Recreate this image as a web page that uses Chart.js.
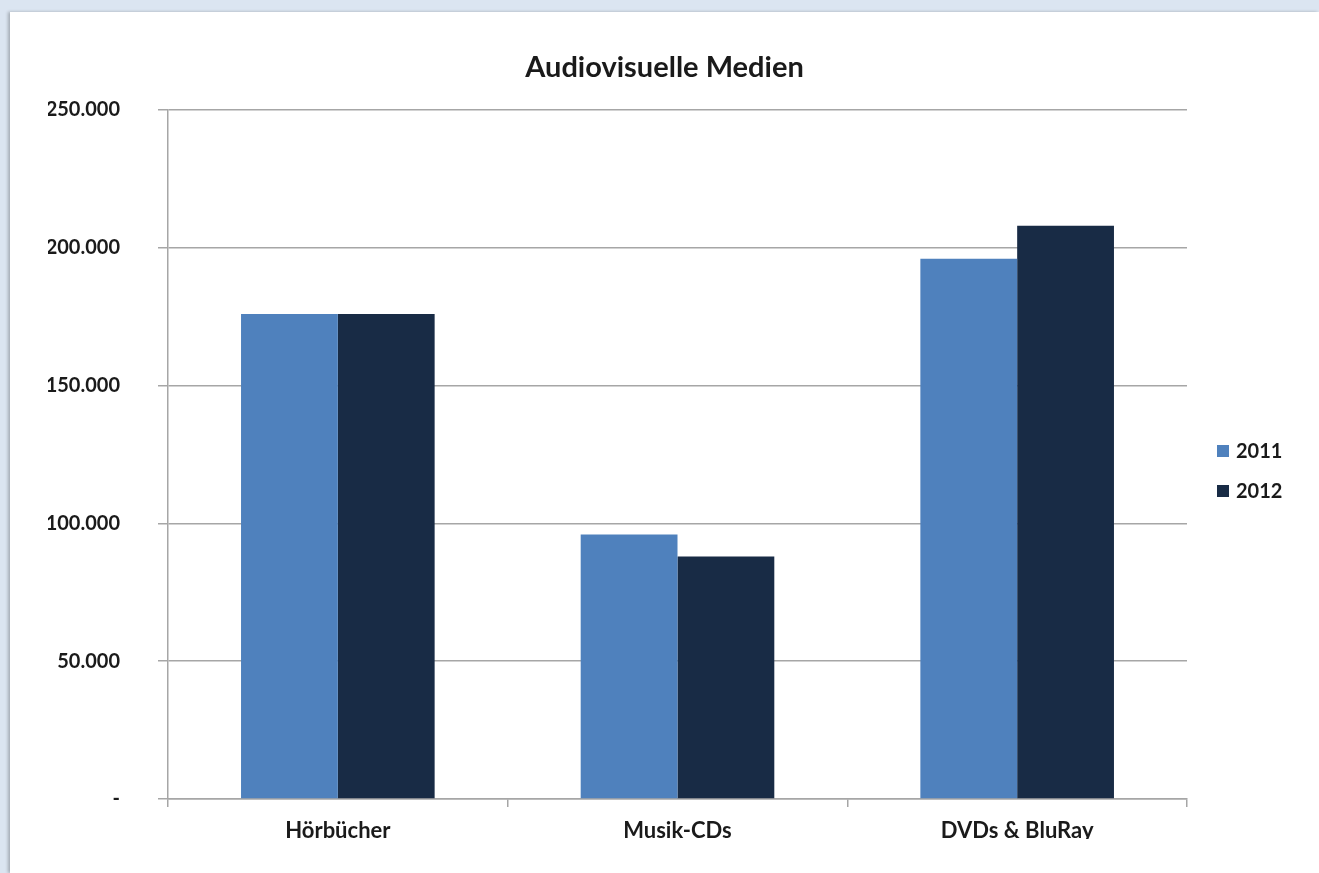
<!DOCTYPE html>
<html><head><meta charset="utf-8">
<script src="https://cdn.jsdelivr.net/npm/chart.js@4"></script>
<style>
html,body{margin:0;padding:0;background:#dbe5f1;width:1319px;height:873px;overflow:hidden}
#panel{position:absolute;left:10px;top:12px;width:1309px;height:861px;background:#fff;box-shadow:-2px 0 3px rgba(0,0,0,0.25);}
#clip{position:absolute;left:38px;top:0;width:1271px;height:827px;overflow:hidden}
#c{position:absolute;left:-38px;top:0}
</style></head><body>
<div id="panel"><div id="clip"><canvas id="c" width="1309" height="861"></canvas></div></div>
<script>
const categories = ['Hörbücher', 'Musik-CDs', 'DVDs & BluRay'];
const seriesNames = ['2011', '2012'];
const values2011 = [176000, 96000, 196000];
const values2012 = [176000, 88000, 208000];
const colors = ['#4f81bd', '#182b45'];
const yMin = 0, yMax = 250000, yStep = 50000;
const chartTitle = 'Audiovisuelle Medien';

const FONT = 'Lato, "Open Sans", sans-serif';
const TEXT = '#1a1a1a';

function fmt(v) {
  if (v === 0) return '-';
  return String(v).replace(/\B(?=(\d{3})+(?!\d))/g, '.');
}

const sideLegend = {
  id: 'sideLegend',
  afterDraw(chart) {
    const {ctx, chartArea} = chart;
    const ds = chart.data.datasets;
    const x = chartArea.right + 30;
    const mid = (chartArea.top + chartArea.bottom) / 2 + 16.5;
    const gap = 40;
    ctx.save();
    ctx.font = 'bold 20px ' + FONT;
    ctx.textBaseline = 'middle';
    ctx.textAlign = 'left';
    ds.forEach((d, i) => {
      const y = mid + (i - (ds.length - 1) / 2) * gap;
      ctx.fillStyle = d.backgroundColor;
      ctx.fillRect(x, y - 6, 12, 12);
      ctx.fillStyle = TEXT;
      ctx.fillText(d.label, x + 19, y + 1);
    });
    ctx.restore();
  }
};

new Chart(document.getElementById('c'), {
  type: 'bar',
  data: {
    labels: categories,
    datasets: [
      {label: seriesNames[0], data: values2011, backgroundColor: colors[0]},
      {label: seriesNames[1], data: values2012, backgroundColor: colors[1]}
    ]
  },
  options: {
    responsive: false,
    devicePixelRatio: 1,
    animation: false,
    layout: {padding: {left: 0, right: 0, top: 0, bottom: 0}},
    categoryPercentage: 0.57,
    barPercentage: 1.0,
    plugins: {
      legend: {display: false},
      tooltip: {enabled: false},
      title: {
        display: true,
        text: chartTitle,
        color: TEXT,
        font: {family: FONT, size: 29, weight: 'bold'},
        padding: {top: 38.6, bottom: 24.6}
      }
    },
    scales: {
      x: {
        grid: {display: true, drawOnChartArea: false, drawTicks: true, tickLength: 8, color: '#a6a6a6', lineWidth: 1.5, offset: true},
        border: {display: true, color: '#a6a6a6', width: 1.5},
        ticks: {color: TEXT, font: {family: FONT, size: 22, weight: 'bold'}, padding: 11, maxRotation: 0},
        afterFit(s) { s.height = 74; }
      },
      y: {
        min: yMin, max: yMax,
        grid: {color: '#a6a6a6', lineWidth: 1.5, drawTicks: true, tickLength: 10},
        border: {display: true, color: '#a6a6a6', width: 1.5},
        ticks: {stepSize: yStep, color: TEXT, font: {family: FONT, size: 20, weight: 'bold'}, padding: 38, callback: v => fmt(v)},
        afterFit(s) { s.width = 158; }
      },
      legendSpace: {
        type: 'linear',
        position: 'right',
        display: true,
        grid: {display: false},
        border: {display: false},
        ticks: {display: false},
        afterFit(s) { s.width = 132; }
      }
    }
  },
  plugins: [sideLegend]
});
</script>
</body></html>
